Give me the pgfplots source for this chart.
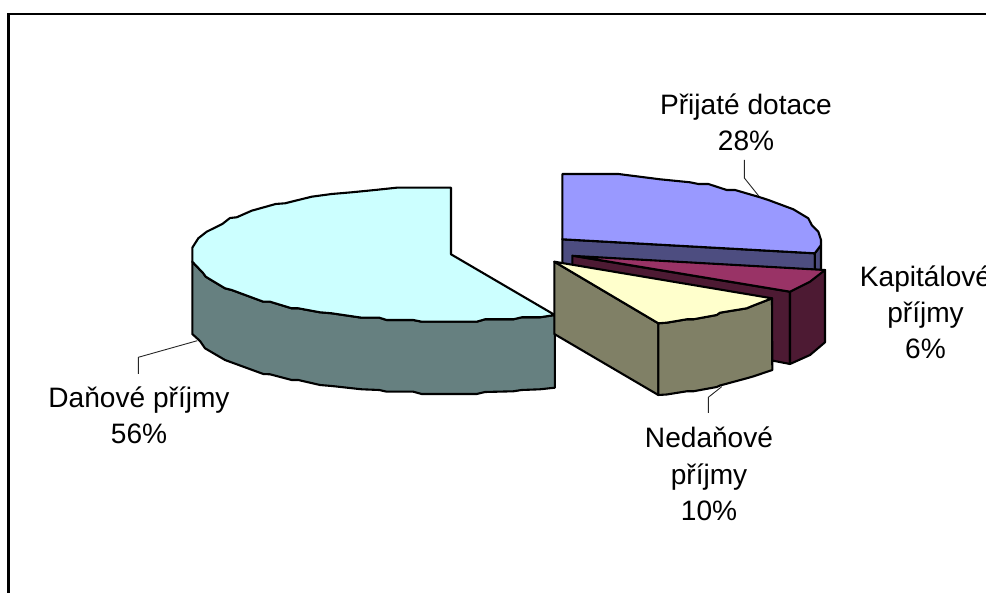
\documentclass[border=0pt]{standalone}
\usepackage{pgfplots}
\pgfplotsset{compat=1.18}
\usepackage{fontspec}
\setmainfont{Liberation Sans}
\definecolor{dtop}{HTML}{CCFFFF}\definecolor{dside}{HTML}{668080}
\definecolor{ptop}{HTML}{9999FF}\definecolor{pside}{HTML}{4D4D80}
\definecolor{ktop}{HTML}{993366}\definecolor{kside}{HTML}{4D1A33}
\definecolor{ntop}{HTML}{FFFFCC}\definecolor{nside}{HTML}{808066}
\tikzset{lab/.style={font=\fontsize{28.2}{34}\selectfont,anchor=base,inner sep=0pt,text=black}}
\begin{document}
\begin{tikzpicture}[x=1bp,y=1bp]
\clip (0,0) rectangle (986,593);
\begin{axis}[at={(0,0)},anchor=south west,scale only axis,width=986bp,height=593bp,
  xmin=0,xmax=986,ymin=0,ymax=593,y dir=reverse,axis lines=none,clip=false,
  every axis plot/.append style={line join=round,line width=2.1bp,draw=black}]
% frame
\addplot[line width=2.6bp,line join=miter] coordinates {(8.5,600) (8.5,14) (990,14)};
% leader lines
\addplot[line width=0.9bp,draw=black!85] coordinates {(744.3,160) (744.3,178) (759.3,196.7)};
\addplot[line width=0.9bp,draw=black!85] coordinates {(721.7,386.7) (708.3,397.3) (708.3,413)};
\addplot[line width=0.9bp,draw=black!85] coordinates {(197.3,340.7) (138.3,357.3) (138.3,374)};
% Danove side
\addplot[fill=dside] coordinates {(192.3,261.7) (203.3,273.3) (205.7,276.7) (225,288.3) (231.7,290) (263.3,301.7) (270,301.7) (291.7,308.3) (298.3,308.3) (320,312.3) (331.7,313.3) (361.7,317.7) (379.3,317.7) (386.7,320) (413.3,320) (421.7,321.7) (476.7,321.7) (485,319.3) (513.3,319.3) (521.7,317.3) (540,317.3) (554.8,315)
 (554.8,387.7) (540,389.3) (521.7,390) (513.3,391.3) (485,392) (476.7,394) (421.7,394) (413.3,391.7) (386.7,391.7) (379.3,390) (361.7,389.3) (331.7,386) (320,385) (298.3,380) (291.7,380) (270,374.3) (263.3,374) (225,360) (205,348.3) (200,341) (192.3,334)} --cycle;
% Danove top
\addplot[fill=dtop] coordinates {(451,254.3) (451,187.7) (396.7,187.7) (375,190) (351.7,192.3) (331.7,194) (311.7,196.7) (285,203.3) (275.7,204) (251.7,210.7) (236.7,217.3) (230,218) (222.3,224) (206.7,231.7) (198.3,238.3) (192.3,247.7) (192.3,261.7) (203.3,273.3) (205.7,276.7) (225,288.3) (231.7,290) (263.3,301.7) (270,301.7) (291.7,308.3) (298.3,308.3) (320,312.3) (331.7,313.3) (361.7,317.7) (379.3,317.7) (386.7,320) (413.3,320) (421.7,321.7) (476.7,321.7) (485,319.3) (513.3,319.3) (521.7,317.3) (540,317.3) (554.8,315)} --cycle;
% Prijate side
\addplot[fill=pside] coordinates {(562.3,239.3) (814.8,253.3) (814.8,270) (562.3,270)} --cycle;
\addplot[fill=pside] coordinates {(814.8,253.3) (821,245) (821,270) (814.8,270)} --cycle;
% Prijate top
\addplot[fill=ptop] coordinates {(562.3,174) (618.3,174) (660,179.3) (690,182.3) (698.3,184) (708.3,184) (726.7,190) (735,190) (760,197.3) (768.3,200) (793.3,209.3) (808.3,218.3) (811.7,225) (818.3,231.7) (821,240) (821,245) (814.8,253.3) (562.3,239.3)} --cycle;
% Kapitalove side
\addplot[fill=kside] coordinates {(572.3,255.7) (790,291.7) (790,364) (773,360.7) (572.3,290)} --cycle;
\addplot[fill=kside] coordinates {(790,291.7) (825,270) (825,342.3) (810,355) (790,364)} --cycle;
% Kapitalove top
\addplot[fill=ktop] coordinates {(575,256) (825,270) (810,281.7) (790,291.7)} --cycle;
% Nedanove sides
\addplot[fill=nside] coordinates {(554.3,261.7) (658.3,323.3) (658.3,395) (554.3,334)} --cycle;
\addplot[fill=nside] coordinates {(658.3,323.3) (666.7,322.7) (686.7,319.3) (693.3,319.3) (716.7,315) (720,312.7) (746.7,308.3) (753,305.7) (772,298.3) (772.3,370) (753,376.5) (746.7,378.3) (720,385.5) (716.7,387) (693.3,391.3) (686.7,391.3) (666.7,394.5) (658.3,395)} --cycle;
% Nedanove top
\addplot[fill=ntop] coordinates {(554.3,261.7) (772,298.3) (753,305.7) (746.7,308.3) (720,312.7) (716.7,315) (693.3,319.3) (686.7,319.3) (666.7,322.7) (658.3,323.3)} --cycle;
% labels
\node[lab] at (axis cs:746,115) {Přijaté dotace};
\node[lab] at (axis cs:746,151) {28\%};
\node[lab] at (axis cs:925.5,287) {Kapitálové};
\node[lab] at (axis cs:925.5,323) {příjmy};
\node[lab] at (axis cs:925.5,359) {6\%};
\node[lab] at (axis cs:709,448) {Nedaňové};
\node[lab] at (axis cs:709,484) {příjmy};
\node[lab] at (axis cs:709,520) {10\%};
\node[lab] at (axis cs:139,408) {Daňové příjmy};
\node[lab] at (axis cs:139,444) {56\%};
\end{axis}
\end{tikzpicture}
\end{document}
